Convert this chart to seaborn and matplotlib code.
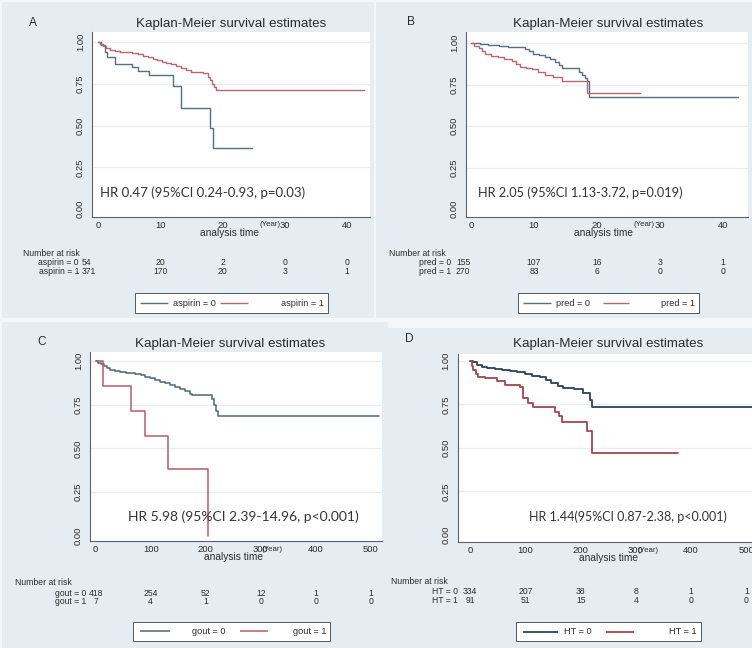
import numpy as np
import pandas as pd
import matplotlib
matplotlib.use("Agg")
import matplotlib.pyplot as plt
import seaborn as sns
from matplotlib import font_manager as fm
from matplotlib.patches import Rectangle
from matplotlib.transforms import blended_transform_factory

# ---------------- data ----------------
aspirin0_time = [0, 0.5, 1.1, 1.5, 2.7, 5.4, 6.5, 8.2, 12.1, 13.3, 18.0, 18.4, 24.7]
aspirin0_surv = [1.0, 0.98, 0.94, 0.91, 0.866, 0.848, 0.828, 0.802, 0.738, 0.603, 0.483, 0.365, 0.365]
aspirin1_time = [0, 0.3, 0.8, 1.3, 2.0, 2.8, 3.5, 4.5, 5.5, 6.5, 7.3, 8.0, 8.8, 9.5, 10.3, 11.0,
                 11.8, 12.5, 13.3, 14.2, 15.0, 16.9, 17.6, 18.0, 18.3, 18.6, 18.9, 42.7]
aspirin1_surv = [1.0, 0.99, 0.975, 0.962, 0.955, 0.948, 0.942, 0.938, 0.934, 0.928, 0.918, 0.908,
                 0.898, 0.89, 0.882, 0.874, 0.866, 0.856, 0.846, 0.83, 0.822, 0.814, 0.79, 0.77,
                 0.75, 0.73, 0.71, 0.71]

pred0_time = [0, 1.5, 2.75, 4.5, 5.9, 7.5, 8.6, 9.3, 9.9, 10.8, 11.8, 12.6, 13.4, 14.0, 14.4,
              17.1, 17.7, 18.1, 18.5, 18.8, 42.4]
pred0_surv = [1.0, 0.995, 0.99, 0.985, 0.98, 0.975, 0.964, 0.952, 0.936, 0.93, 0.92, 0.905,
              0.889, 0.87, 0.849, 0.829, 0.81, 0.789, 0.77, 0.677, 0.677]
pred1_time = [0, 0.5, 1.2, 1.7, 2.2, 3.2, 4.3, 5.3, 6.5, 7.2, 7.8, 8.8, 9.7, 10.7, 11.8, 13.0,
              14.4, 18.4, 26.9]
pred1_surv = [1.0, 0.985, 0.97, 0.955, 0.936, 0.925, 0.916, 0.905, 0.895, 0.875, 0.859, 0.85,
              0.843, 0.825, 0.809, 0.795, 0.775, 0.699, 0.699]

gout0_time = [0, 5, 10, 15, 20, 26, 35, 45, 55, 62, 72, 82, 90, 99, 108, 117, 126, 135, 144,
              153, 162, 171, 175, 211, 215, 219, 223, 515]
gout0_surv = [1.0, 0.99, 0.98, 0.97, 0.96, 0.949, 0.943, 0.937, 0.933, 0.93, 0.925, 0.918,
              0.91, 0.901, 0.892, 0.882, 0.872, 0.863, 0.852, 0.84, 0.826, 0.812, 0.806, 0.78,
              0.749, 0.715, 0.686, 0.686]
gout1_time = [0, 13.8, 63.6, 89.6, 132, 205]
gout1_surv = [1.0, 0.857, 0.714, 0.571, 0.381, 0.0]

ht0_time = [0, 5, 12, 20.6, 30, 44.7, 58, 72, 85, 99, 112, 126, 137, 147, 158, 168, 187, 205,
            217, 221, 515]
ht0_surv = [1.0, 0.99, 0.978, 0.966, 0.958, 0.952, 0.948, 0.943, 0.934, 0.924, 0.915, 0.905,
            0.888, 0.87, 0.855, 0.845, 0.84, 0.816, 0.775, 0.733, 0.733]
ht1_time = [0, 3, 5.4, 10, 14.5, 26.6, 47.8, 62.9, 90, 96, 105, 114, 153, 160, 166, 211, 221, 376]
ht1_surv = [1.0, 0.97, 0.947, 0.925, 0.908, 0.899, 0.885, 0.86, 0.847, 0.784, 0.76, 0.733,
            0.707, 0.68, 0.65, 0.597, 0.472, 0.472]

risk_times_AB = [0, 10, 20, 30, 40]
risk_times_CD = [0, 100, 200, 300, 400, 500]
aspirin_risk0 = [54, 20, 2, 0, 0]
aspirin_risk1 = [371, 170, 20, 3, 1]
pred_risk0 = [155, 107, 16, 3, 1]
pred_risk1 = [270, 83, 6, 0, 0]
gout_risk0 = [418, 254, 52, 12, 1, 1]
gout_risk1 = [7, 4, 1, 0, 0, 0]
ht_risk0 = [334, 207, 38, 8, 1, 1]
ht_risk1 = [91, 51, 15, 4, 0, 0]

y_ticks = [0, 0.25, 0.5, 0.75, 1.0]
y_tick_labels = ["0.00", "0.25", "0.50", "0.75", "1.00"]
x_ticks_AB = [0, 10, 20, 30, 40]
x_ticks_CD = [0, 100, 200, 300, 400, 500]

title_text = "Kaplan-Meier survival estimates"
hr_A = "HR 0.47 (95%CI 0.24-0.93, p=0.03)"
hr_B = "HR 2.05 (95%CI 1.13-3.72, p=0.019)"
hr_C = "HR 5.98 (95%CI 2.39-14.96, p<0.001)"
hr_D = "HR 1.44(95%CI 0.87-2.38, p<0.001)"

# ---------------- style ----------------
sns.set_style("white")
avail = {f.name for f in fm.fontManager.ttflist}
NARROW = "Liberation Sans Narrow" in avail
BASE = "Liberation Sans Narrow" if NARROW else "Liberation Sans"
HRFONT = "Lato" if "Lato" in avail else "Liberation Sans"
plt.rcParams["font.family"] = [BASE, "DejaVu Sans"]

if NARROW:
    FS = dict(xt=7.8, yt=7.6, risk=7.2, leg=7.6, xlab=8.4, year=6.4, title=11.3, letter=9.5)
else:
    FS = dict(xt=6.8, yt=6.8, risk=6.2, leg=6.6, xlab=7.3, year=5.6, title=9.6, letter=8.6)

W, H = 752, 648
BG = "#e6edf2"
OUTER = "#f4f7f9"
GRID = "#e6eef1"
AXC = "#5c6166"
TXT = "#2b2b2b"

fig = plt.figure(figsize=(W / 100, H / 100), dpi=100)
fig.patch.set_facecolor(OUTER)


def add_ax(l, t, r, b, z):
    return fig.add_axes([l / W, 1 - b / H, (r - l) / W, (b - t) / H], zorder=z)


panels = [
    dict(letter="A", bg=(2, 2, 374, 318), plot=(92, 32, 370, 217),
         xlim=(-0.964, 43.69), ylim=(-0.0479, 1.0599), xticks=x_ticks_AB,
         groups=[("aspirin = 0", aspirin0_time, aspirin0_surv),
                 ("aspirin = 1", aspirin1_time, aspirin1_surv)],
         risk_t=risk_times_AB, risk=[aspirin_risk0, aspirin_risk1],
         colors=("#56707f", "#b8676e"), lw=1.0,
         letter_xy=(33, 23), title_xy=(231, 24), hr=hr_A, hr_xy=(100, 192.7), hr_fs=9.5,
         xlab_xy=(230, 233.5), year_xy=(260, 225), nar_xy=(23, 253),
         row_x=79, row_y=(262.5, 271.5), first="left", first_off=-16,
         leg_box=(135, 292.7, 328, 313.3), leg_lines=((140, 168), (220, 248)),
         leg_lab_x=(173, 281), leg_y=303),
    dict(letter="B", bg=(376, 2, 752, 318), plot=(466, 32, 748, 217),
         xlim=(-0.795, 44.04), ylim=(-0.0464, 1.068), xticks=x_ticks_AB,
         groups=[("pred = 0", pred0_time, pred0_surv),
                 ("pred = 1", pred1_time, pred1_surv)],
         risk_t=risk_times_AB, risk=[pred_risk0, pred_risk1],
         colors=("#56707f", "#b8676e"), lw=1.0,
         letter_xy=(411, 22), title_xy=(608, 24), hr=hr_B, hr_xy=(478, 192.7), hr_fs=9.2,
         xlab_xy=(603, 233), year_xy=(634, 224.5), nar_xy=(389, 253),
         row_x=451, row_y=(262.5, 271.5), first="left", first_off=-15,
         leg_box=(518, 293, 699, 313), leg_lines=((523, 551), (603, 629)),
         leg_lab_x=(556, 661), leg_y=303),
    dict(letter="C", bg=(2, 322, 388, 648), plot=(90, 352, 382, 541),
         xlim=(-10.4, 520.5), ylim=(-0.0286, 1.051), xticks=x_ticks_CD,
         groups=[("gout = 0", gout0_time, gout0_surv),
                 ("gout = 1", gout1_time, gout1_surv)],
         risk_t=risk_times_CD, risk=[gout_risk0, gout_risk1],
         colors=("#4e6675", "#b45f67"), lw=1.1,
         letter_xy=(41.7, 341.7), title_xy=(230, 344), hr=hr_C, hr_xy=(128, 516.7), hr_fs=10,
         xlab_xy=(234, 557.5), year_xy=(262, 549.5), nar_xy=(15, 582.3),
         row_x=86, row_y=(593, 602), first="center", first_off=0,
         leg_box=(133, 621.7, 330, 640.7), leg_lines=((140, 170), (240, 268)),
         leg_lab_x=(192, 293), leg_y=631),
    dict(letter="D", bg=(388, 328, 752, 648), plot=(457.7, 354, 752, 542),
         xlim=(-22.8, 510.3), ylim=(-0.040, 1.0385), xticks=x_ticks_CD,
         groups=[("HT = 0", ht0_time, ht0_surv),
                 ("HT = 1", ht1_time, ht1_surv)],
         risk_t=risk_times_CD, risk=[ht_risk0, ht_risk1],
         colors=("#2c4258", "#a0474e"), lw=1.3,
         letter_xy=(409, 339), title_xy=(608, 344), hr=hr_D, hr_xy=(529, 516.7), hr_fs=9,
         xlab_xy=(608.5, 558), year_xy=(638, 550), nar_xy=(391, 582),
         row_x=457.7, row_y=(591.5, 600.5), first="center", first_off=0,
         leg_box=(516, 622, 701, 641), leg_lines=((523, 558), (606, 634)),
         leg_lab_x=(564, 669), leg_y=631.5),
]

for i, p in enumerate(panels):
    z = 2 * i
    x0, y0, x1, y1 = p["bg"]
    bg = add_ax(x0, y0, x1, y1, z)
    bg.set_facecolor(BG)
    bg.set_xticks([])
    bg.set_yticks([])
    for s in bg.spines.values():
        s.set_visible(False)
    bg.set_autoscale_on(False)
    bg.set_xlim(x0, x1)
    bg.set_ylim(y1, y0)

    ax = add_ax(*p["plot"], z + 1)
    ax.set_facecolor("white")

    rows = []
    for lab, tt, ss in p["groups"]:
        for t, s in zip(tt, ss):
            rows.append((lab, t, s))
    df = pd.DataFrame(rows, columns=["group", "time", "surv"])
    labels = [g[0] for g in p["groups"]]
    pal = {labels[0]: p["colors"][0], labels[1]: p["colors"][1]}
    for v in y_ticks[1:]:
        ax.axhline(v, color=GRID, lw=0.9, zorder=0)
    sns.lineplot(data=df, x="time", y="surv", hue="group", hue_order=labels, palette=pal,
                 estimator=None, sort=False, drawstyle="steps-post", legend=False,
                 linewidth=p["lw"], ax=ax, zorder=3)
    ax.set_xlim(*p["xlim"])
    ax.set_ylim(*p["ylim"])
    ax.set_xlabel("")
    ax.set_ylabel("")
    ax.set_xticks(p["xticks"])
    ax.set_xticklabels([str(t) for t in p["xticks"]])
    ax.set_yticks(y_ticks)
    ax.set_yticklabels(y_tick_labels, rotation=90, va="center")
    for side in ("top", "right"):
        ax.spines[side].set_visible(False)
    for side in ("left", "bottom"):
        ax.spines[side].set_color(AXC)
        ax.spines[side].set_linewidth(0.8)
    ax.tick_params(axis="x", length=2.5, width=0.7, pad=0.6, labelsize=FS["xt"],
                   color=AXC, labelcolor=TXT)
    ax.tick_params(axis="y", length=4, width=0.7, pad=1.0, labelsize=FS["yt"],
                   color=AXC, labelcolor=TXT)

    # in-plot annotation (pixel placement)
    ax.text(p["hr_xy"][0], p["hr_xy"][1], p["hr"], transform=bg.transData,
            fontfamily=HRFONT, fontsize=p["hr_fs"], color="#333333",
            ha="left", va="center", zorder=5)

    # titles / labels
    bg.text(*p["letter_xy"], p["letter"], fontsize=FS["letter"], color=TXT, ha="center", va="center")
    bg.text(*p["title_xy"], title_text, fontsize=FS["title"], color=TXT, ha="center", va="center")
    bg.text(*p["xlab_xy"], "analysis time", fontsize=FS["xlab"], color=TXT, ha="center", va="center")
    bg.text(*p["year_xy"], "(Year)", fontsize=FS["year"], color=TXT, ha="left", va="center")

    # number at risk table
    bg.text(*p["nar_xy"], "Number at risk", fontsize=FS["risk"], color=TXT, ha="left", va="center")
    trans = blended_transform_factory(ax.transData, bg.transData)
    for r, (lab, vals) in enumerate(zip(labels, p["risk"])):
        yr = p["row_y"][r]
        bg.text(p["row_x"], yr, lab, fontsize=FS["risk"], color=TXT, ha="right", va="center")
        for j, (t, v) in enumerate(zip(p["risk_t"], vals)):
            if j == 0 and p["first"] == "left":
                x0p = bg.transData.inverted().transform(
                    ax.transData.transform((t, 0)))[0] + p["first_off"]
                bg.text(x0p, yr, str(v), fontsize=FS["risk"], color=TXT, ha="left", va="center")
            else:
                bg.text(t, yr, str(v), transform=trans, fontsize=FS["risk"], color=TXT,
                        ha="center", va="center")

    # legend box
    lx0, ly0, lx1, ly1 = p["leg_box"]
    bg.add_patch(Rectangle((lx0, ly0), lx1 - lx0, ly1 - ly0, facecolor="white",
                           edgecolor="#55595e", linewidth=0.7, zorder=2))
    for k in range(2):
        a, b = p["leg_lines"][k]
        bg.plot([a, b], [p["leg_y"], p["leg_y"]], color=p["colors"][k],
                lw=p["lw"], zorder=3, solid_capstyle="butt")
        bg.text(p["leg_lab_x"][k], p["leg_y"], labels[k], fontsize=FS["leg"], color=TXT,
                ha="left", va="center", zorder=3)
    bg.set_xlim(x0, x1)
    bg.set_ylim(y1, y0)

fig.savefig("out.png", dpi=100, facecolor=fig.get_facecolor())
